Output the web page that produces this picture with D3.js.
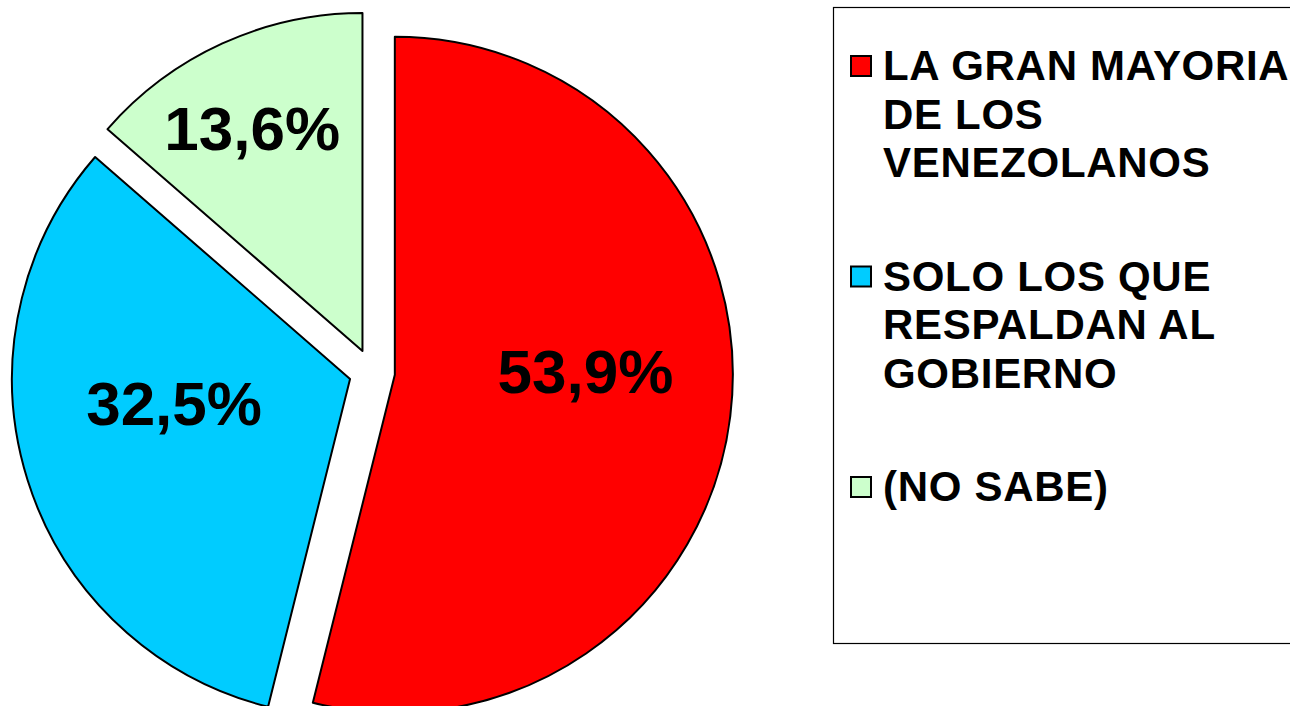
<!DOCTYPE html>
<html>
<head>
<meta charset="utf-8">
<script src="https://cdn.jsdelivr.net/npm/d3@7"></script>
<style>
  body { margin: 0; background: #fff; }
  svg { display: block; font-family: "Liberation Sans", Arial, sans-serif; font-weight: bold; }
</style>
</head>
<body>
<svg id="chart" width="1290" height="706"></svg>
<script>
// data
var categories = [
  ["LA GRAN MAYORIA", "DE LOS", "VENEZOLANOS"],
  ["SOLO LOS QUE", "RESPALDAN AL", "GOBIERNO"],
  ["(NO SABE)"]
];
var values = [53.9, 32.5, 13.6];
var colors = ["#ff0000", "#00ccff", "#ccffcc"];

var width = 1290, height = 706;
var cx = 372, cy = 372, radius = 338, explode = 23;

var svg = d3.select('#chart');

var es = d3.formatLocale({decimal: ",", thousands: ".", grouping: [3], currency: ["", ""]});
var fmt = es.format(".1f");

var pie = d3.pie().sort(null).value(function(d) { return d; });
var arc = d3.arc().innerRadius(0).outerRadius(radius);

var slices = pie(values);

// label tweaks, excel "best fit" doesn't sit exactly on the bisector
var labelNudge = [[-4, -28], [11, -35], [-29, -45]];

function mid(d) { return (d.startAngle + d.endAngle) / 2; }

var g = svg.append('g')
  .attr('transform', 'translate(' + cx + ',' + cy + ')');

var slice = g.selectAll('.slice')
  .data(slices)
  .enter().append('g')
  .attr('class', 'slice')
  .attr('transform', function(d) {
    var a = mid(d);
    return 'translate(' + (Math.sin(a) * explode) + ',' + (-Math.cos(a) * explode) + ')';
  });

slice.append('path')
  .attr('d', arc)
  .attr('fill', function(d, i) { return colors[i]; })
  .attr('stroke', '#000')
  .attr('stroke-width', 2)
  .attr('stroke-linejoin', 'round');

slice.append('text')
  .attr('x', function(d, i) { return Math.sin(mid(d)) * radius * 0.58 + labelNudge[i][0]; })
  .attr('y', function(d, i) { return -Math.cos(mid(d)) * radius * 0.58 + labelNudge[i][1]; })
  .attr('dy', '0.36em')
  .attr('text-anchor', 'middle')
  .attr('font-size', 62)
  .attr('fill', '#000')
  .text(function(d) { return fmt(d.data) + '%'; });

// legend
var legend = svg.append('g').attr('class', 'legend');

legend.append('rect')
  .attr('x', 833.5)
  .attr('y', 7.5)
  .attr('width', 500)
  .attr('height', 636)
  .attr('fill', '#fff')
  .attr('stroke', '#000')
  .attr('stroke-width', 1.2);

var item = legend.selectAll('.item')
  .data(categories)
  .enter().append('g')
  .attr('class', 'item')
  .attr('transform', function(d, i) { return 'translate(0,' + (80 + i * 210.5) + ')'; });

item.append('rect')
  .attr('x', 851)
  .attr('y', -24)
  .attr('width', 20)
  .attr('height', 20)
  .attr('fill', function(d, i) { return colors[i]; })
  .attr('stroke', '#000')
  .attr('stroke-width', 2);

item.append('text')
  .attr('x', 883)
  .attr('font-size', 42)
  .attr('letter-spacing', 0.7)
  .attr('fill', '#000')
  .selectAll('tspan')
  .data(function(d) { return d; })
  .enter().append('tspan')
  .attr('x', 883)
  .attr('dy', function(d, i) { return i === 0 ? 0 : 48.5; })
  .text(function(d) { return d; });
</script>
</body>
</html>
